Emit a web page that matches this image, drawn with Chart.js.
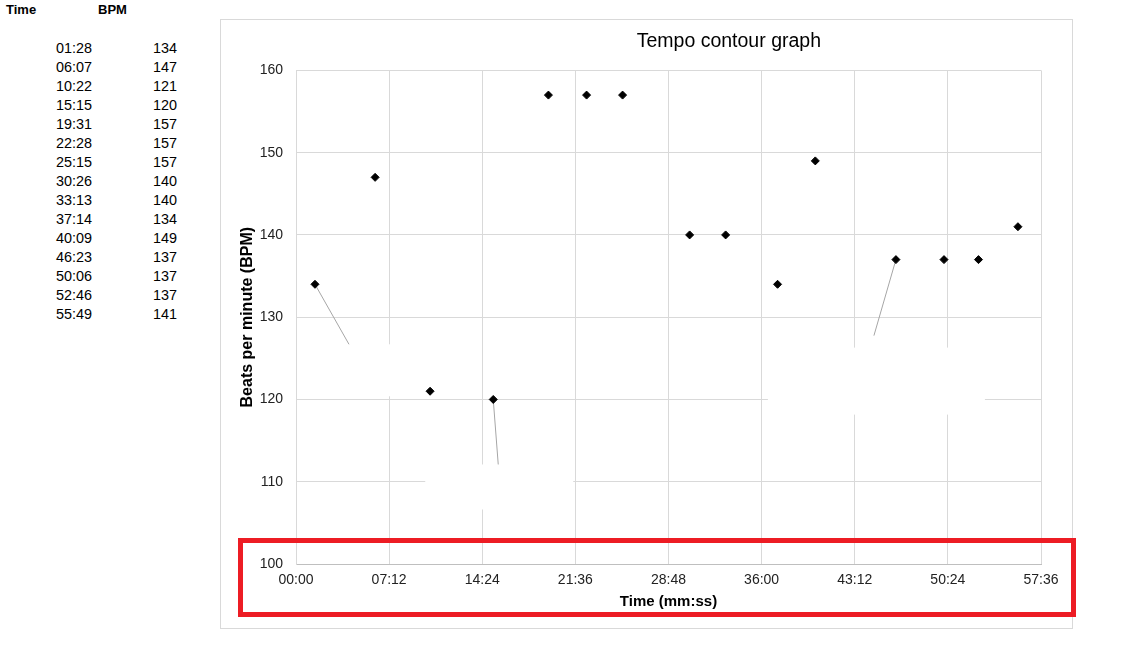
<!DOCTYPE html>
<html>
<head>
<meta charset="utf-8">
<script src="https://cdn.jsdelivr.net/npm/chart.js@4/dist/chart.umd.min.js"></script>
<style>
  body { margin: 0; background: #fff; font-family: 'Liberation Sans', Arial, sans-serif; color: #000; }
  .page { position: relative; width: 1134px; height: 664px; overflow: hidden; }
  .hdr { position: absolute; top: 2px; font-weight: bold; font-size: 13px; }
  .tbl { position: absolute; top: 39px; font-size: 14.4px; line-height: 19px; }
  .tbl div { height: 19px; }
  .box { position: absolute; left: 220px; top: 19px; width: 853px; height: 610px;
         box-sizing: border-box; border: 1px solid #d9d9d9; }
  .box canvas { display: block; }
  .mark { position: absolute; left: 238px; top: 538px; width: 838px; height: 79px;
          box-sizing: border-box; border: 5px solid #ed1c24; pointer-events: none; }
</style>
</head>
<body>
<div class="page">
  <div class="hdr" style="left:6px">Time</div>
  <div class="hdr" style="left:98px">BPM</div>
  <div class="tbl" id="colTime" style="left:56px"></div>
  <div class="tbl" id="colBpm" style="left:153px"></div>
  <div class="box"><canvas id="chart" width="851" height="608"></canvas></div>
  <div class="mark"></div>
</div>
<script>
// data
const times = ['01:28', '06:07', '10:22', '15:15', '19:31', '22:28', '25:15', '30:26',
               '33:13', '37:14', '40:09', '46:23', '50:06', '52:46', '55:49'];
const bpm = [134, 147, 121, 120, 157, 157, 157, 140, 140, 134, 149, 137, 137, 137, 141];
const xTickLabels = ['00:00', '07:12', '14:24', '21:36', '28:48', '36:00', '43:12', '50:24', '57:36'];
const yTicks = [100, 110, 120, 130, 140, 150, 160];

// the empty label boxes and their leader lines, offsets in px from the point
const callouts = [
  { index: 0,  lead: [34, 60], box: [34, 60, 72, 52] },
  { index: 3,  lead: [5, 65],  box: [-68, 65, 148, 45] },
  { index: 11, lead: [-22, 76], box: [-128, 88, 217, 67] }
];

function toSeconds(s) {
  const p = s.split(':');
  return Number(p[0]) * 60 + Number(p[1]);
}

document.getElementById('colTime').innerHTML = times.map(t => '<div>' + t + '</div>').join('');
document.getElementById('colBpm').innerHTML = bpm.map(b => '<div>' + b + '</div>').join('');

const points = times.map((t, i) => ({ x: toSeconds(t), y: bpm[i] }));
const xMax = toSeconds(xTickLabels[xTickLabels.length - 1]);
const xStep = toSeconds(xTickLabels[1]);

const calloutPlugin = {
  id: 'callouts',
  afterLayout(chart) {
    // title sits right of the canvas centre in the original
    const tb = chart.titleBlock;
    if (tb) {
      tb.left = chart.width * 0.23;
      tb.right = chart.chartArea.right;
    }
  },
  beforeDatasetsDraw(chart) {
    const ctx = chart.ctx;
    const meta = chart.getDatasetMeta(0);
    ctx.save();
    callouts.forEach(c => {
      const pt = meta.data[c.index];
      ctx.fillStyle = '#ffffff';
      ctx.fillRect(pt.x + c.box[0], pt.y + c.box[1], c.box[2], c.box[3]);
      ctx.strokeStyle = '#a6a6a6';
      ctx.lineWidth = 1;
      ctx.beginPath();
      ctx.moveTo(pt.x, pt.y);
      ctx.lineTo(pt.x + c.lead[0], pt.y + c.lead[1]);
      ctx.stroke();
    });
    ctx.restore();
  }
};

new Chart(document.getElementById('chart'), {
  type: 'scatter',
  data: {
    datasets: [{
      label: 'BPM',
      data: points,
      pointStyle: 'rectRot',
      pointRadius: 4,
      pointHoverRadius: 4,
      backgroundColor: '#000',
      borderColor: '#000',
      borderWidth: 1
    }]
  },
  plugins: [calloutPlugin],
  options: {
    responsive: false,
    animation: false,
    events: [],
    layout: { padding: { left: 0, right: 31, top: 0, bottom: 0 } },
    plugins: {
      legend: { display: false },
      tooltip: { enabled: false },
      title: {
        display: true,
        text: 'Tempo contour graph',
        color: '#000',
        font: { family: "'Liberation Sans', Arial", size: 19.5, weight: 'normal' },
        padding: { top: 10, bottom: 17 }
      }
    },
    scales: {
      x: {
        type: 'linear',
        min: 0,
        max: xMax,
        afterFit: (s) => { s.height = 64; },
        ticks: {
          stepSize: xStep,
          padding: 8,
          color: '#222',
          font: { family: "'Liberation Sans', Arial", size: 14 },
          callback: (v, i) => xTickLabels[i]
        },
        grid: { color: '#d9d9d9', drawTicks: false },
        border: { color: '#bfbfbf' },
        title: {
          display: true,
          text: 'Time (mm:ss)',
          color: '#000',
          font: { family: "'Liberation Sans', Arial", size: 15, weight: 'bold' },
          padding: { top: 0, bottom: 17 }
        }
      },
      y: {
        min: yTicks[0],
        max: yTicks[yTicks.length - 1],
        afterFit: (s) => { s.width = 75; },
        afterBuildTicks: (s) => { s.ticks = yTicks.map(v => ({ value: v })); },
        ticks: {
          padding: 13,
          color: '#222',
          font: { family: "'Liberation Sans', Arial", size: 14 }
        },
        grid: { color: '#d9d9d9', drawTicks: false },
        border: { color: '#d9d9d9' },
        title: {
          display: true,
          text: 'Beats per minute (BPM)',
          color: '#000',
          font: { family: "'Liberation Sans', Arial", size: 16, weight: 'bold' },
          padding: { top: 17, bottom: 0 }
        }
      }
    }
  }
});
</script>
</body>
</html>
